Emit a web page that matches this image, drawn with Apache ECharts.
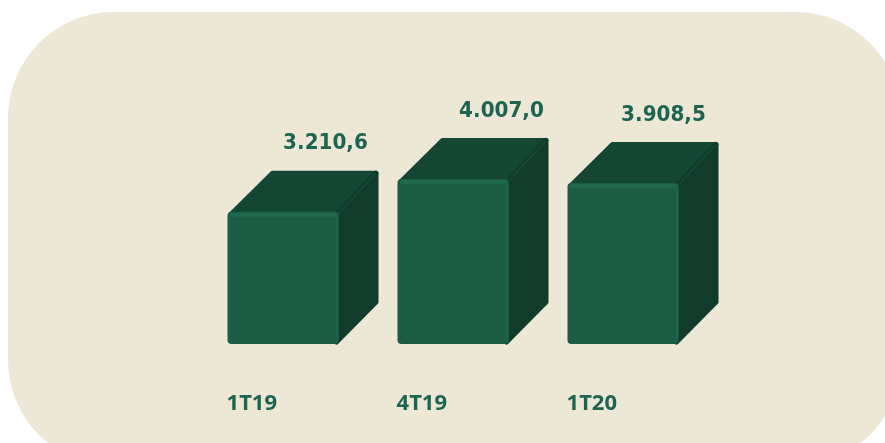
<!DOCTYPE html>
<html><head><meta charset="utf-8">
<style>html,body{margin:0;padding:0;background:#fff}#c{width:885px;height:443px}</style>
<script src="https://cdn.jsdelivr.net/npm/echarts@6/dist/echarts.min.js"></script>
</head><body><div id="c"></div>
<script>
const categories = ['1T19', '4T19', '1T20'];
const values = [3210.6, 4007.0, 3908.5];
const valueLabels = ['3.210,6', '4.007,0', '3.908,5'];
const labelShift = [42.5, 48.5, 40.5];

const chart = echarts.init(document.getElementById('c'), null, {renderer: 'canvas'});
const DX = 40, DY = 41, HALF = 55.5;
const FONT = '"DejaVu Sans", Verdana, sans-serif';
chart.setOption({
  animation: false,
  backgroundColor: '#ffffff',
  graphic: [{type: 'rect', z: -10, shape: {x: 8, y: 12, width: 893, height: 454, r: 106},
             style: {fill: '#ede7d6'}}],
  grid: {left: 198, width: 510, top: 138, height: 206},
  xAxis: {type: 'category', data: categories,
    axisLine: {show: false}, axisTick: {show: false},
    axisLabel: {margin: 49, align: 'right', padding: [0, 6, 0, 0], color: '#1d6550',
      fontFamily: '"Noto Sans", sans-serif', fontWeight: 'bold', fontSize: 22}},
  yAxis: {type: 'value', min: 0, max: 5000, show: false, splitLine: {show: false}},
  series: [{
    type: 'custom', clip: false, data: values.map((v, i) => [i, v]),
    encode: {x: 0, y: 1},
    renderItem(params, api) {
      const i = params.dataIndex;
      const top = api.coord([i, api.value(1)]);
      const base = api.coord([i, 0]);
      const l = top[0] - HALF, r = top[0] + HALF, t = top[1], b = base[1];
      const round = c => ({fill: c, stroke: c, lineWidth: 5, lineJoin: 'round'});
      const ty = t - DY - 27;
      return {type: 'group', children: [
        {type: 'polygon', shape: {points: [[l + 3, t + 3], [l + DX + 5, t - DY + 2.5], [r + DX - 2.5, t - DY + 2.5], [r - 1, t + 3]]},
          style: round('#134733')},
        {type: 'polygon', shape: {points: [[r - 2, t + 3], [r + DX - 2.5, t - DY + 2.5], [r + DX - 2.5, b - DY - 1], [r - 2, b - 2]]},
          style: round('#113c2c')},
        {type: 'line', shape: {x1: r, y1: t + 2, x2: r + DX - 3, y2: t - DY + 3},
          style: {stroke: '#164a37', lineWidth: 1.5}},
        {type: 'rect', shape: {x: l, y: t, width: r - l, height: b - t, r: 4},
          style: {fill: '#1b5c44'}},
        {type: 'rect', shape: {x: l + 2, y: t + 1, width: r - l - 4, height: 4, r: 2},
          style: {fill: '#20694f'}},
        {type: 'rect', shape: {x: r - 3, y: t + 1, width: 3, height: b - t - 3, r: 1.5},
          style: {fill: '#1e644b'}},
        {type: 'text', originX: top[0] + labelShift[i], originY: ty, scaleY: 1.1,
          style: {text: valueLabels[i], x: top[0] + labelShift[i], y: ty,
          align: 'center', verticalAlign: 'middle', fill: '#1d6550',
          font: 'bold 20px ' + FONT}}
      ]};
    }
  }]
});
</script></body></html>
